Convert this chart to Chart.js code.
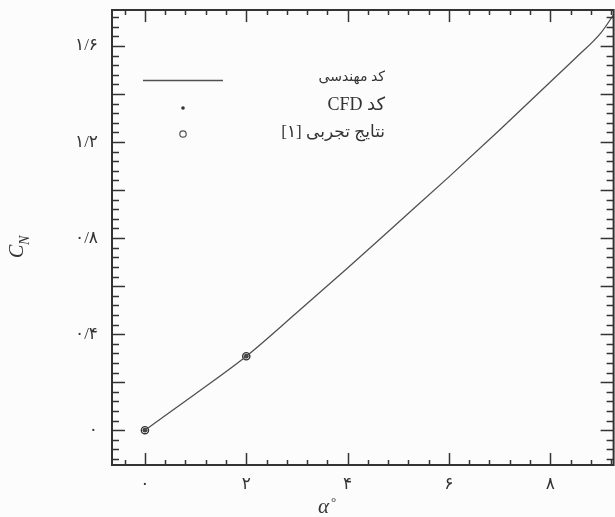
<!DOCTYPE html>
<html lang="fa">
<head>
<meta charset="utf-8">
<title>CN vs alpha</title>
<script src="https://cdn.jsdelivr.net/npm/chart.js@4.4.1/dist/chart.umd.min.js"></script>
<style>
    html, body { margin: 0; padding: 0; background: #fcfcfc; overflow: hidden; }
    #chartBox { width: 615px; height: 517px; overflow: hidden; }
</style>
</head>
<body>
<div id="chartBox"><canvas id="cnChart" width="619" height="517"></canvas></div>
<script>
// Engineering code curve (alpha in degrees, CN)
const alphaValues = [0, 1, 2, 3, 4, 5, 6, 7, 8, 8.5, 9, 9.25];
const cnValues = [0, 0.152, 0.308, 0.49, 0.675, 0.865, 1.055, 1.25, 1.45, 1.55, 1.655, 1.73];

// CFD code and experimental points
const cfdAlpha = [0, 2];
const cfdCn = [0, 0.308];
const expAlpha = [0, 2];
const expCn = [0, 0.308];

// Axis ticks and labels (Persian digits)
const xTickValues = [0, 2, 4, 6, 8];
const xTickLabels = ['۰', '۲', '۴', '۶', '۸'];
const yTickValues = [0, 0.4, 0.8, 1.2, 1.6];
const yTickLabels = ['۰', '۰/۴', '۰/۸', '۱/۲', '۱/۶'];

const legendLabels = ['کد مهندسی', 'کد CFD', 'نتایج تجربی [۱]'];

const inkColor = '#333333';
const lineColor = '#505050';
const persianFont = "'Liberation Serif', 'DejaVu Sans', serif";

document.addEventListener('DOMContentLoaded', function() {
    drawChart();
});

function toPoints(xs, ys) {
    return xs.map((x, i) => ({ x: x, y: ys[i] }));
}

// Frame with inward ticks on all four sides
const framePlugin = {
    id: 'frame',
    afterDatasetsDraw(chart) {
        const ctx = chart.ctx;
        const area = chart.chartArea;
        const xs = chart.scales.x;
        const ys = chart.scales.y;
        ctx.save();
        ctx.strokeStyle = inkColor;
        ctx.lineWidth = 2;
        ctx.strokeRect(area.left, area.top, area.right - area.left, area.bottom - area.top);

        ctx.lineWidth = 1.5;
        // x ticks every 0.4, long on the even numbers
        for (let i = -1; i <= 23; i++) {
            const v = i * 0.4;
            if (v < xs.min || v > xs.max) continue;
            const px = Math.round(xs.getPixelForValue(v)) + 0.5;
            const long = i % 5 === 0;
            const len = long ? 12 : 5;
            ctx.beginPath();
            ctx.moveTo(px, area.bottom); ctx.lineTo(px, area.bottom - len);
            ctx.moveTo(px, area.top); ctx.lineTo(px, area.top + len);
            ctx.stroke();
        }
        // y ticks every 0.04, long every 0.2
        for (let i = -3; i <= 43; i++) {
            const v = i * 0.04;
            if (v < ys.min || v > ys.max) continue;
            const py = Math.round(ys.getPixelForValue(v)) + 0.5;
            const long = i % 5 === 0;
            const len = long ? 13 : 7;
            ctx.beginPath();
            ctx.moveTo(area.left, py); ctx.lineTo(area.left + len, py);
            ctx.moveTo(area.right, py); ctx.lineTo(area.right - len, py);
            ctx.stroke();
        }
        ctx.restore();
    }
};

// Legend inside the plot plus the two axis titles
const annotatePlugin = {
    id: 'annotate',
    afterDraw(chart) {
        const ctx = chart.ctx;
        ctx.save();
        ctx.fillStyle = inkColor;
        ctx.strokeStyle = lineColor;

        // legend line sample
        ctx.lineWidth = 1.3;
        ctx.beginPath();
        ctx.moveTo(143, 80.5); ctx.lineTo(223, 80.5);
        ctx.stroke();
        // CFD sample
        ctx.beginPath();
        ctx.arc(183, 108, 1.8, 0, Math.PI * 2);
        ctx.fill();
        // experimental sample
        ctx.lineWidth = 1.2;
        ctx.beginPath();
        ctx.arc(183, 134, 3.2, 0, Math.PI * 2);
        ctx.stroke();

        ctx.direction = 'rtl';
        ctx.textAlign = 'right';
        ctx.textBaseline = 'middle';
        ctx.font = '14px ' + persianFont;
        ctx.fillText(legendLabels[0], 385, 77);
        ctx.font = '18px ' + persianFont;
        ctx.fillText(legendLabels[1], 385, 105);
        ctx.font = '17px ' + persianFont;
        ctx.fillText(legendLabels[2], 385, 133);

        // axis titles
        ctx.direction = 'ltr';
        ctx.textAlign = 'left';
        ctx.textBaseline = 'alphabetic';
        ctx.font = 'italic 21px ' + persianFont;
        ctx.fillText('α', 318, 513);
        ctx.font = '13px ' + persianFont;
        ctx.fillText('°', 331, 506);

        ctx.translate(23, 258);
        ctx.rotate(-Math.PI / 2);
        ctx.font = 'italic 20px ' + persianFont;
        ctx.fillText('C', 0, 0);
        ctx.font = 'italic 14px ' + persianFont;
        ctx.fillText('N', 13, 6);
        ctx.restore();
    }
};

function drawChart() {
    const ctx = document.getElementById('cnChart');
    new Chart(ctx, {
        type: 'scatter',
        data: {
            datasets: [{
                label: legendLabels[0],
                data: toPoints(alphaValues, cnValues),
                showLine: true,
                borderColor: lineColor,
                borderWidth: 1.3,
                pointRadius: 0,
                cubicInterpolationMode: 'monotone'
            }, {
                label: legendLabels[2],
                data: toPoints(expAlpha, expCn),
                showLine: false,
                pointStyle: 'circle',
                pointRadius: 3.6,
                borderWidth: 1.4,
                borderColor: inkColor,
                backgroundColor: 'rgba(0,0,0,0)'
            }, {
                label: legendLabels[1],
                data: toPoints(cfdAlpha, cfdCn),
                showLine: false,
                pointStyle: 'circle',
                pointRadius: 2.4,
                borderWidth: 0,
                backgroundColor: '#444444'
            }]
        },
        options: {
            responsive: false,
            animation: false,
            devicePixelRatio: 1,
            layout: { padding: { top: 10, right: 0, left: 0, bottom: 0 } },
            plugins: { legend: { display: false }, tooltip: { enabled: false } },
            scales: {
                x: {
                    type: 'linear',
                    min: -0.65,
                    max: 9.25,
                    grid: { display: false, drawTicks: false },
                    border: { display: false },
                    afterFit: (scale) => {
                        scale.height = 52;
                        scale.paddingLeft = 0;
                        scale.paddingRight = 0;
                    },
                    afterBuildTicks: (scale) => { scale.ticks = xTickValues.map(v => ({ value: v })); },
                    ticks: {
                        padding: 9,
                        color: inkColor,
                        font: { family: persianFont, size: 17 },
                        callback: (value, index) => xTickLabels[index]
                    }
                },
                y: {
                    type: 'linear',
                    min: -0.145,
                    max: 1.75,
                    grid: { display: false, drawTicks: false },
                    border: { display: false },
                    afterFit: (scale) => {
                        scale.width = 112;
                        scale.paddingTop = 0;
                        scale.paddingBottom = 0;
                    },
                    afterBuildTicks: (scale) => { scale.ticks = yTickValues.map(v => ({ value: v })); },
                    ticks: {
                        padding: 14,
                        color: inkColor,
                        font: { family: persianFont, size: 17 },
                        callback: (value, index) => yTickLabels[index]
                    }
                }
            }
        },
        plugins: [framePlugin, annotatePlugin]
    });
}
</script>
</body>
</html>
